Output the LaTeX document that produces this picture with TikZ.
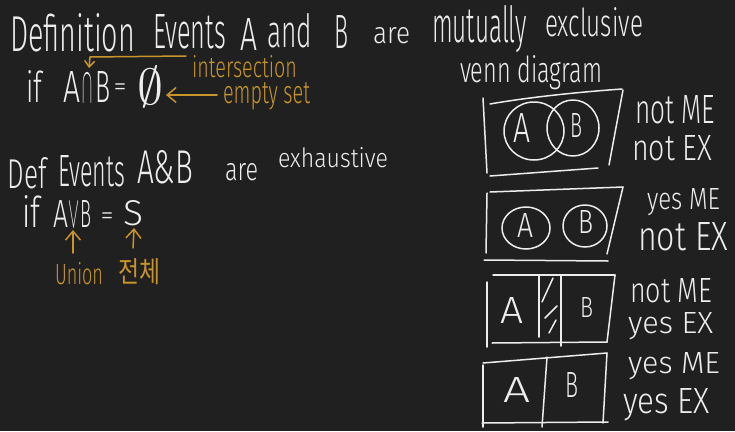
\documentclass[tikz,border=0pt]{standalone}
\usepackage{fontspec}
\usepackage{graphicx}
\usetikzlibrary{arrows.meta}
\IfFontExistsTF{Fira Sans Light}{\newfontfamily\handfont{Fira Sans Light}}{\newfontfamily\handfont{Fira Sans}}
\newfontfamily\krfont{Noto Sans CJK KR}
\definecolor{bg}{HTML}{202020}
\definecolor{ink}{HTML}{EDEDED}
\definecolor{gold}{HTML}{C8952B}
\newcommand{\fitword}[3]{\resizebox{#1pt}{#2pt}{#3}}
\tikzset{
  word/.style={inner sep=0pt, outer sep=0pt, anchor=base west, text=ink, font=\handfont},
  gword/.style={word, text=gold},
  pen/.style={draw=ink, line width=1.5pt, line cap=round, line join=round},
  gpen/.style={draw=gold, line width=1.5pt, line cap=round, line join=round},
  garrow/.style={gpen, -{Straight Barb[length=9pt,width=15pt,line width=1.5pt]}},
  gsmallarrow/.style={gpen, -{Straight Barb[length=6pt,width=10pt,line width=1.5pt]}},
}
\begin{document}
\begin{tikzpicture}[x=1pt,y=-1pt]
\fill[bg] (0,0) rectangle (735,431);
\useasboundingbox (0,0) rectangle (735,431);

% line 1
\node[word] (def) at (10,51) {\fitword{125}{38}{Definition}};
\node[word] (ev1) at (153,48) {\fitword{73}{34}{Events}};
\node[word] (a1) at (240,50) {\fitword{17}{32}{A}};
\node[word] (and) at (267,47) {\fitword{45}{34}{and}};
\node[word] (b1) at (334,48) {\fitword{14}{33}{B}};
\node[word] (are1) at (373,43) {\fitword{37}{16}{are}};
\node[word] (mut) at (432,42) {\fitword{95}{37}{mutually}};
\node[word] (excl) at (545,36) {\fitword{98}{29}{exclusive}};
\node[word] (venn) at (460,82) {\fitword{142}{27}{venn diagram}};

% line 2
\node[word] (if1) at (26,102) {\fitword{16}{32}{if}};
\node[word] (a2) at (63,102) {\fitword{17}{31}{A}};
\node[word] (cap) at (82,102) {\fitword{10}{28}{$\cap$}};
\node[word] (b2) at (95,102) {\fitword{15}{31}{B}};
\node[word, anchor=center] (eq1) at (120,90) {\resizebox{13pt}{!}{=}};
\node[word] (es) at (137,104) {\fitword{26}{38}{$\emptyset$}};
\node[gword] (inter) at (192,77) {\fitword{105}{22}{intersection}};
\node[gword] (emp) at (223,103) {\fitword{87}{21}{empty set}};
\coordinate (intA) at (186,56);
\coordinate (intB) at (90,57);
\coordinate (intC) at (89,68);
\draw[gsmallarrow] (intA) -- (intB) -- (intC);
\coordinate (empA) at (217,95);
\coordinate (empB) at (166,95);
\draw[garrow] (empA) -- (empB);

% line 3
\node[word] (def2) at (8,188) {\fitword{39}{31}{Def}};
\node[word] (ev2) at (58,186) {\fitword{67}{31}{Events}};
\node[word] (ab) at (137,183) {\fitword{56}{33}{A\&B}};
\node[word] (are2) at (225,180) {\fitword{33}{17}{are}};
\node[word] (exh) at (278,167) {\fitword{110}{20}{exhaustive}};

% line 4
\node[word] (if2) at (22,227) {\fitword{18}{32}{if}};
\node[word] (a3) at (53,227) {\fitword{15}{27}{A}};
\node[word] (vee) at (68,227) {\fitword{11}{25}{$\vee$}};
\node[word] (b3) at (80,227) {\fitword{11}{27}{B}};
\node[word, anchor=center] (eq2) at (107,219) {\resizebox{13pt}{!}{=}};
\node[word] (s) at (123,225) {\fitword{20}{25}{S}};
\node[gword] (union) at (55,284) {\fitword{48}{22}{Union}};
\node[gword] (whole) at (118,282) {\fitword{42}{24}{\krfont 전체}};
\coordinate (uA) at (73,253);
\coordinate (uB) at (73,230);
\draw[garrow] (uA) -- (uB);
\coordinate (wA) at (133,248);
\coordinate (wB) at (134,228);
\draw[garrow] (wA) -- (wB);

% box 1
\draw[pen] (483,98) -- (487,173);
\draw[pen] (490,104) .. controls (530,97) and (580,92) .. (622,89);
\draw[pen] (623,90) -- (609,165);
\draw[pen] (490,176) -- (598,168);
\draw[pen] (534,131) ellipse [x radius=30pt, y radius=29pt];
\draw[pen] (573,128) ellipse [x radius=26pt, y radius=28pt];
\node[word] (A1) at (513,142) {\fitword{17}{29}{A}};
\node[word] (B1) at (570,137) {\fitword{12}{24}{B}};
\node[word] (l1a) at (635,123) {\fitword{80}{28}{not ME}};
\node[word] (l1b) at (632,160) {\fitword{80}{25}{not EX}};

% box 2
\draw[pen] (487,193) -- (486,253);
\draw[pen] (490,192) -- (623,187);
\draw[pen] (623,187) -- (607,254);
\draw[pen] (484,260) -- (608,261);
\draw[pen] (526,228) ellipse [x radius=24pt, y radius=21pt];
\draw[pen] (585,226) ellipse [x radius=22pt, y radius=21pt];
\node[word] (A2) at (517,237) {\fitword{16}{24}{A}};
\node[word] (B2) at (578,233) {\fitword{15}{23}{B}};
\node[word] (l2a) at (647,209) {\fitword{73}{21}{yes ME}};
\node[word] (l2b) at (638,250) {\fitword{90}{28}{not EX}};

% box 3
\draw[pen] (487,282) -- (487,347);
\draw[pen] (493,275) -- (615,275);
\draw[pen] (615,275) -- (607,342);
\draw[pen] (492,343) -- (607,342);
\draw[pen] (539,275) -- (539,337);
\draw[pen] (561,275) -- (561,346);
\draw[pen] (553,278) -- (542,302);
\draw[pen] (557,306) -- (545,318);
\draw[pen] (556,320) -- (549,333);
\node[word] (A3) at (500,323) {\fitword{23}{26}{A}};
\node[word] (B3) at (580,317) {\fitword{13}{20}{B}};
\node[word] (l3a) at (630,302) {\fitword{82}{24}{not ME}};
\node[word] (l3b) at (628,333) {\fitword{85}{21}{yes EX}};

% box 4
\draw[pen] (483,363) -- (607,353);
\draw[pen] (483,365) -- (483,427);
\draw[pen] (482,423) -- (608,422);
\draw[pen] (607,353) -- (603,423);
\draw[pen] (547,357) -- (542,427);
\node[word] (A4) at (503,402) {\fitword{27}{25}{A}};
\node[word] (B4) at (565,397) {\fitword{13}{25}{B}};
\node[word] (l4a) at (628,373) {\fitword{92}{21}{yes ME}};
\node[word] (l4b) at (623,413) {\fitword{87}{25}{yes EX}};
\end{tikzpicture}
\end{document}
